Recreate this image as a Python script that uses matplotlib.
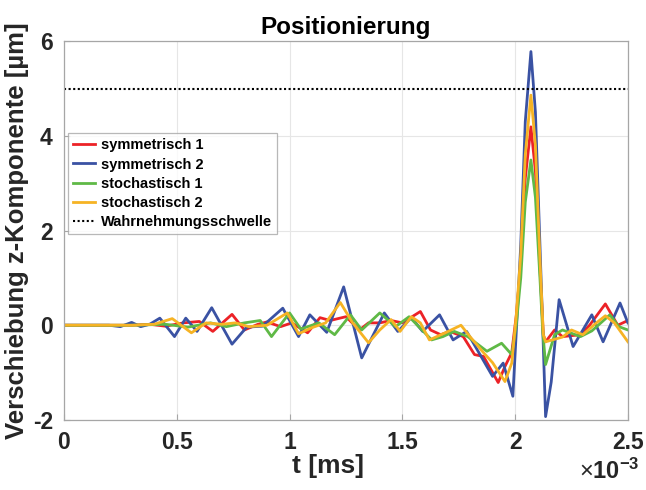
import matplotlib
matplotlib.use("Agg")
import matplotlib.pyplot as plt
from matplotlib.ticker import FuncFormatter, MultipleLocator

plt.rcParams['font.family'] = ['Liberation Sans', 'DejaVu Sans']
plt.rcParams['mathtext.fontset'] = 'custom'
plt.rcParams['mathtext.rm'] = 'Liberation Sans'
plt.rcParams['mathtext.bf'] = 'Liberation Sans:bold'

# ---- data (t in ms, displacement in µm) ----
t_sym1 = [0, 0.30, 0.38, 0.45, 0.53, 0.60, 0.66, 0.745, 0.80, 0.86, 0.90, 0.96, 1.01, 1.08,
          1.135, 1.18, 1.25, 1.31, 1.35, 1.40, 1.45, 1.50, 1.58, 1.625, 1.67, 1.71, 1.77,
          1.82, 1.86, 1.925, 1.955, 1.985, 2.005, 2.025, 2.045, 2.07, 2.09, 2.11, 2.125,
          2.135, 2.175, 2.21, 2.29, 2.33, 2.40, 2.455, 2.50]
y_sym1 = [0, 0, 0.02, -0.02, 0.05, 0.08, -0.13, 0.23, -0.10, 0.02, 0.07, -0.03, 0.05, -0.16,
          0.16, 0.10, 0.18, -0.10, 0.05, 0.05, 0.10, 0.05, 0.29, -0.10, -0.20, -0.13, -0.24,
          -0.62, -0.66, -1.21, -0.87, -0.58, 0.2, 1.3, 3.1, 4.19, 3.25, 1.2, -0.2,
          -0.35, -0.10, -0.24, -0.20, 0.0, 0.45, 0.0, 0.10]

t_sym2 = [0, 0.20, 0.25, 0.30, 0.34, 0.38, 0.425, 0.49, 0.54, 0.59, 0.655, 0.745, 0.81, 0.88,
          0.97, 1.04, 1.09, 1.165, 1.24, 1.32, 1.42, 1.48, 1.54, 1.59, 1.665, 1.725, 1.785,
          1.90, 1.947, 1.99, 2.01, 2.025, 2.045, 2.07, 2.09, 2.11, 2.122, 2.135, 2.16,
          2.195, 2.257, 2.34, 2.39, 2.465, 2.50]
y_sym2 = [0, 0, -0.03, 0.06, -0.03, 0.02, 0.15, -0.24, 0.15, -0.13, 0.37, -0.40, -0.04, -0.02,
          0.36, -0.24, 0.22, -0.15, 0.81, -0.69, 0.26, -0.13, 0.16, -0.13, 0.22, -0.31, -0.13,
          -1.08, -0.80, -1.50, 0.3, 1.7, 4.3, 5.78, 4.5, 1.7, 0.0, -1.93, -1.2,
          0.54, -0.45, 0.22, -0.35, 0.47, 0.05]

t_sto1 = [0, 0.30, 0.45, 0.55, 0.65, 0.72, 0.80, 0.87, 0.92, 1.00, 1.05, 1.13, 1.20, 1.27,
          1.32, 1.40, 1.47, 1.53, 1.63, 1.68, 1.73, 1.79, 1.875, 1.94, 1.985, 2.005, 2.025,
          2.045, 2.07, 2.09, 2.11, 2.122, 2.135, 2.175, 2.21, 2.29, 2.34, 2.42, 2.46, 2.50]
y_sto1 = [0, 0, 0.02, -0.04, 0.05, -0.03, 0.05, 0.10, -0.24, 0.26, -0.08, 0.05, -0.20, 0.22,
          -0.10, 0.26, -0.03, 0.18, -0.31, -0.24, -0.13, -0.24, -0.55, -0.38, -0.62, 0.0, 1.0,
          2.6, 3.49, 2.7, 1.0, -0.1, -0.83, -0.20, -0.10, -0.24, -0.12, 0.22, -0.03, -0.10]

t_sto2 = [0, 0.30, 0.40, 0.48, 0.565, 0.63, 0.70, 0.76, 0.82, 0.90, 0.99, 1.04, 1.10, 1.16,
          1.225, 1.28, 1.35, 1.40, 1.45, 1.49, 1.54, 1.58, 1.62, 1.69, 1.76, 1.80, 1.86, 1.90,
          1.955, 1.985, 2.005, 2.025, 2.045, 2.07, 2.09, 2.11, 2.125, 2.135, 2.21, 2.25,
          2.30, 2.36, 2.40, 2.44, 2.50]
y_sto2 = [0, 0, 0.02, 0.14, -0.16, 0.05, 0.02, 0.05, -0.03, 0.0, 0.26, -0.18, -0.05, 0.05,
          0.48, 0.05, -0.37, -0.10, 0.12, -0.13, 0.18, 0.05, -0.31, -0.16, 0.0, -0.24, -0.58, -0.79,
          -1.19, -0.80, 0.2, 1.5, 3.6, 4.86, 3.8, 1.4, -0.2, -0.35, -0.25, -0.10,
          -0.20, 0.05, 0.20, 0.05, -0.35]

threshold = 5.0
labels = ['symmetrisch 1', 'symmetrisch 2', 'stochastisch 1', 'stochastisch 2',
          'Wahrnehmungsschwelle']
colors = ['#ec2227', '#3a52a3', '#5fb946', '#f6b324']

fig = plt.figure(figsize=(6.46, 4.90), dpi=100)
ax = fig.add_axes([0.099, 0.143, 0.873, 0.773])

series = [(t_sym1, y_sym1), (t_sym2, y_sym2), (t_sto1, y_sto1), (t_sto2, y_sto2)]
for (tt, yy), c, lab in zip(series, colors, labels):
    ax.plot([v * 1e-3 for v in tt], yy, color=c, lw=2.0, label=lab, solid_joinstyle='round')
ax.plot([0, 2.5e-3], [threshold, threshold], color='black', lw=1.5, ls=(0, (1, 1.2)),
        label=labels[4])

ax.set_xlim(0, 2.5e-3)
ax.set_ylim(-2, 6)
ax.xaxis.set_major_locator(MultipleLocator(0.5e-3))
ax.yaxis.set_major_locator(MultipleLocator(2))
ax.xaxis.set_major_formatter(FuncFormatter(lambda v, p: f"{v*1e3:g}"))
ax.yaxis.set_major_formatter(FuncFormatter(lambda v, p: f"{v:g}"))
ax.grid(True, color='#e6e6e6', lw=0.8)
ax.set_axisbelow(True)
for s in ax.spines.values():
    s.set_color('#a6a6a6')
    s.set_linewidth(0.9)
ax.tick_params(direction='in', length=4, color='#a6a6a6', labelsize=16.5, pad=8,
               top=False, right=False)
for lbl in ax.get_xticklabels() + ax.get_yticklabels():
    lbl.set_fontweight('bold')
    lbl.set_color('#262626')

ax.set_xlabel('t [ms]', fontsize=19, fontweight='bold', color='#262626')
ax.xaxis.set_label_coords(0.468, -0.09)
ax.set_ylabel('Verschiebung z-Komponente [µm]', fontsize=18.5, fontweight='bold',
              color='#262626')
ax.yaxis.set_label_coords(-0.062, 0.5)
ax.set_title('Positionierung', fontsize=17.5, fontweight='bold', color='black', pad=5)
fig.text(640 / 646, 6 / 490, r'$\times\mathbf{10^{-3}}$', ha='right', va='bottom',
         fontsize=17, color='#262626')

leg = ax.legend(loc='upper left', bbox_to_anchor=(0.007, 0.757),
                prop={'weight': 'bold', 'size': 10.5}, frameon=True, fancybox=False,
                edgecolor='#a6a6a6', handlelength=1.5, handletextpad=0.4,
                labelspacing=0.36, borderpad=0.35, borderaxespad=0.0)
leg.get_frame().set_linewidth(0.9)

fig.savefig('out.png', dpi=100)
